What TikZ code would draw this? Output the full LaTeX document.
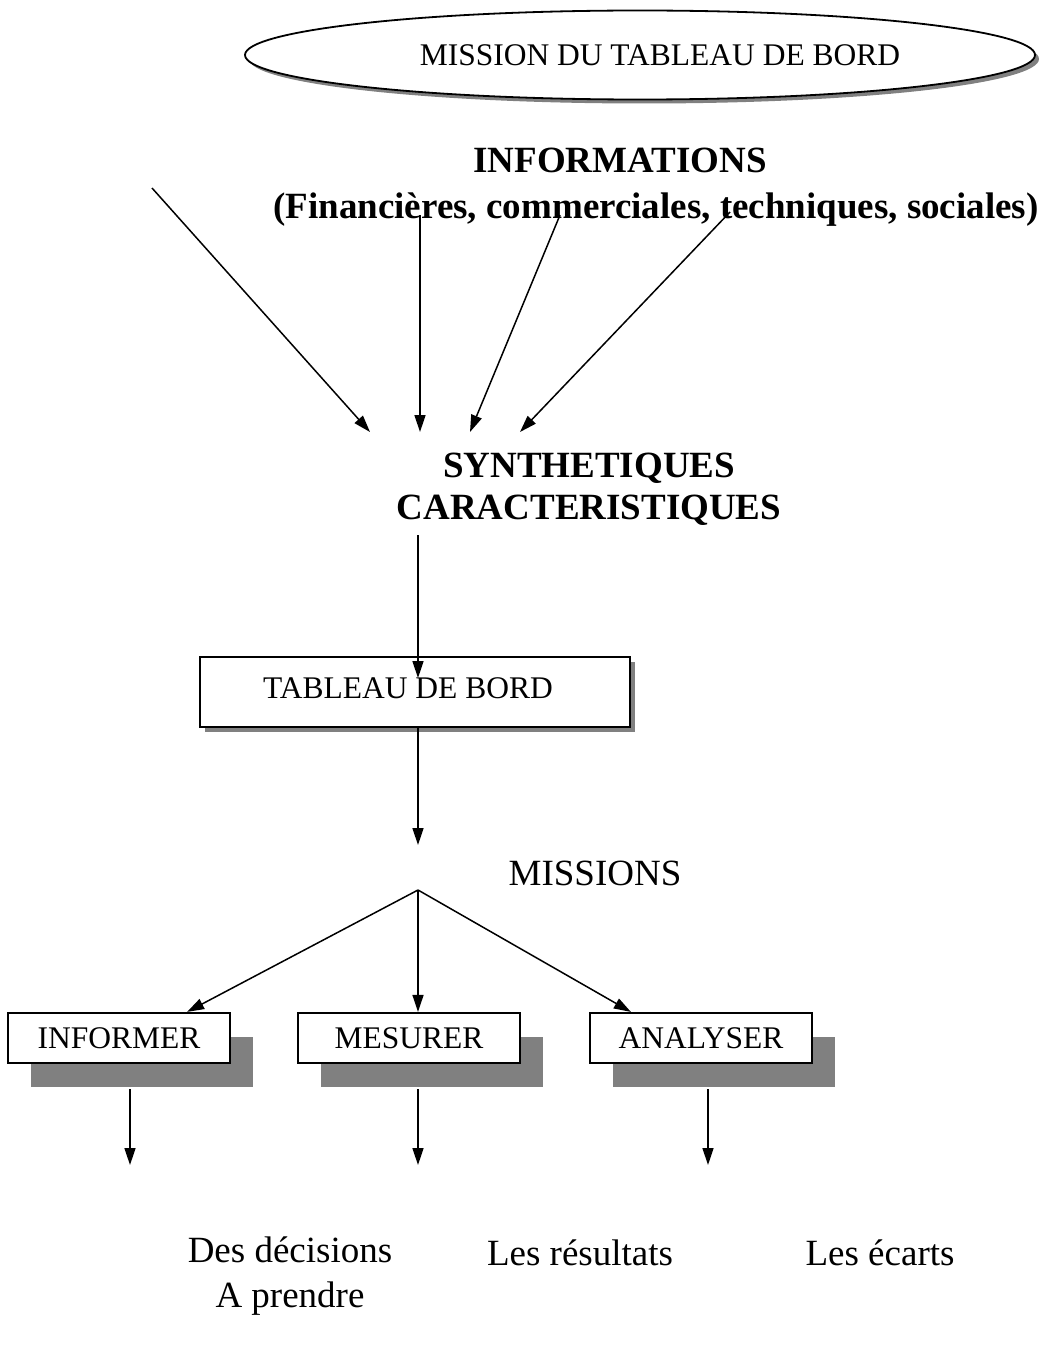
\documentclass[tikz,border=0pt]{standalone}
\usepackage{fontspec}
\setmainfont{Liberation Serif}
\usetikzlibrary{shapes.geometric,shadows,arrows.meta,calc}
\begin{document}
\begin{tikzpicture}[x=1pt,y=-1pt,
  arr/.style={-{Triangle[length=17pt,width=11pt]}, line width=1.5pt},
  lbl/.style={font=\fontsize{31.5}{36}\selectfont},
  big/.style={font=\fontsize{37}{45}\selectfont},
  bigb/.style={font=\fontsize{37}{42}\selectfont\bfseries},
  shad/.style={drop shadow={shadow xshift=#1, shadow yshift=-#1, fill=gray, opacity=1}},
  box/.style={draw, line width=2.2pt, fill=white, minimum height=50pt, minimum width=222pt, inner sep=0pt, lbl,
    drop shadow={shadow xshift=23pt, shadow yshift=-24pt, fill=gray, opacity=1}},
]
\useasboundingbox (0,0) rectangle (1045,1367);

% title ellipse
\node[ellipse, draw, line width=1.8pt, fill=white, minimum width=790pt, minimum height=89pt, inner sep=0pt,
  shad=4pt, label={[lbl, xshift=20pt]center:MISSION DU TABLEAU DE BORD}] (mission) at (640,55) {};

% informations
\node[bigb] (info) at (620,160) {INFORMATIONS};
\node[bigb] (cats) at (656,210) {(Financières, commerciales, techniques, sociales)};

\coordinate (s1) at (152,188);
\coordinate (s2) at (420,215);
\coordinate (s3) at (560,215);
\coordinate (s4) at (730,212);
\coordinate (e1) at (370,432);
\coordinate (e2) at (420,432);
\coordinate (e3) at (470,432);
\coordinate (e4) at (520,432);
\draw[arr] (s1) -- (e1);
\draw[arr] (s2) -- (e2);
\draw[arr] (s3) -- (e3);
\draw[arr] (s4) -- (e4);

\node[bigb, align=center] (synth) at (589,489) {SYNTHETIQUES\\CARACTERISTIQUES};

% tableau de bord
\node[draw, line width=2.2pt, fill=white, minimum width=430pt, minimum height=70pt, inner sep=0pt, shad=5pt,
  label={[lbl, xshift=-7pt, yshift=4pt]center:TABLEAU DE BORD}] (tdb) at (415,692) {};

\coordinate (tin) at (418,678);
\draw[arr] (418,535 -| tin) -- (tin);
\coordinate (tout) at (418,845);
\draw[arr] (tdb.south -| tout) -- (tout);

\node[big] (missions) at (595,873) {MISSIONS};
\coordinate (split) at (418,890);

% mission boxes
\node[box] (inf) at (119,1038) {INFORMER};
\node[box] (mes) at (409,1038) {MESURER};
\node[box] (ana) at (701,1038) {ANALYSER};

\draw[arr] (split) -- ([xshift=-44pt]inf.north east);
\draw[arr] (split) -- (split |- mes.north);
\draw[arr] (split) -- ([xshift=42pt]ana.north west);

% results
\coordinate (b1) at (130,1165);
\coordinate (b2) at (418,1165);
\coordinate (b3) at (708,1165);
\draw[arr] ([yshift=-25pt]inf.south -| b1) -- (b1);
\draw[arr] ([yshift=-25pt]mes.south -| b2) -- (b2);
\draw[arr] ([yshift=-25pt]ana.south -| b3) -- (b3);

\node[big, align=center] (dec) at (290,1276) {Des décisions\\A prendre};
\node[big] (res) at (580,1253) {Les résultats};
\node[big] (eca) at (880,1253) {Les écarts};
\end{tikzpicture}
\end{document}
